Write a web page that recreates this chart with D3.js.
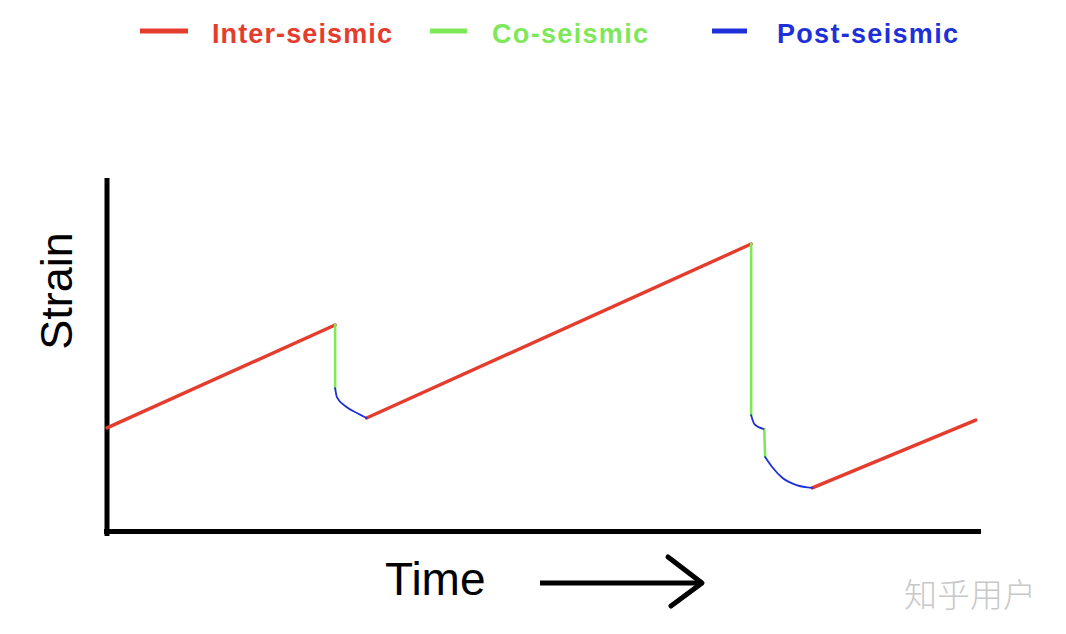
<!-- strain vs time sketch: inter / co / post seismic cycle -->
<html>
<head>
<meta charset="utf-8">
<title>Seismic cycle strain</title>
<script src="https://d3js.org/d3.v7.min.js"></script>
<style>
  body { margin: 0; background: #fff; }
  svg { display: block; }
  .lbl { font-family: "Liberation Sans", Arial, sans-serif; }
</style>
</head>
<body>
<svg></svg>
<script>

// time / strain points, arbitrary units (0..10 on both axes)
var interseismic = [
  [[0, 2.96], [2.61, 5.86]],
  [[2.97, 3.24], [7.37, 8.14]],
  [[8.07, 1.27], [9.94, 3.18]]
];
var coseismic = [
  [[2.61, 5.86], [2.61, 4.08]],
  [[7.37, 8.14], [7.37, 3.32]],
  [[7.52, 2.93], [7.53, 2.14]]
];
var postseismic = [
  [[2.61, 4.08], [2.63, 3.83], [2.74, 3.55], [2.86, 3.38], [2.97, 3.24]],
  [[7.37, 3.32], [7.41, 3.06], [7.51, 2.93]],
  [[7.53, 2.14], [7.61, 1.86], [7.73, 1.55], [7.89, 1.35], [8.07, 1.27]]
];

var legendNames = ["Inter-seismic", "Co-seismic", "Post-seismic"];
var legendColors = ["#e53d2d", "#7ee85a", "#1e30d8"];

var width = 1066, height = 634;
var svg = d3.select("svg").attr("width", width).attr("height", height);

var x = d3.scaleLinear().domain([0, 10]).range([107, 981]);
var y = d3.scaleLinear().domain([0, 10]).range([533, 178]);

var line = d3.line()
    .x(function(d) { return x(d[0]); })
    .y(function(d) { return y(d[1]); });
var curve = d3.line()
    .x(function(d) { return x(d[0]); })
    .y(function(d) { return y(d[1]); })
    .curve(d3.curveMonotoneX);

// axes (plain lines, no ticks)
svg.append("line")
    .attr("x1", x(0)).attr("x2", x(0))
    .attr("y1", y(10)).attr("y2", y(0) + 3)
    .attr("stroke", "#000").attr("stroke-width", 5);
svg.append("line")
    .attr("x1", x(0) - 3).attr("x2", x(10))
    .attr("y1", y(0) - 1.5).attr("y2", y(0) - 1.5)
    .attr("stroke", "#000").attr("stroke-width", 5);

// series
function drawSeries(data, gen, color, w) {
  svg.append("g").selectAll("path")
    .data(data)
    .enter().append("path")
      .attr("d", gen)
      .attr("fill", "none")
      .attr("stroke", color)
      .attr("stroke-width", w)
      .attr("stroke-linecap", "round");
}
drawSeries(interseismic, line, legendColors[0], 3.4);
drawSeries(coseismic, line, legendColors[1], 2.6);
drawSeries(postseismic, curve, legendColors[2], 1.8);

// legend
var legendX = [140, 430, 712];
var legendLineW = [48, 37, 35];
var legendTextX = [212, 492, 777];
var legendTextW = [180, 156, 181];
var leg = svg.append("g");
legendNames.forEach(function(name, i) {
  leg.append("line")
    .attr("x1", legendX[i]).attr("x2", legendX[i] + legendLineW[i])
    .attr("y1", 31).attr("y2", 31)
    .attr("stroke", legendColors[i]).attr("stroke-width", 5);
  leg.append("text")
    .attr("class", "lbl")
    .attr("x", legendTextX[i]).attr("y", 43)
    .attr("font-size", 27)
    .attr("font-weight", "bold")
    .attr("textLength", legendTextW[i])
    .attr("lengthAdjust", "spacing")
    .attr("fill", legendColors[i])
    .text(name);
});

// axis labels
svg.append("text")
    .attr("class", "lbl")
    .attr("transform", "translate(72,291) rotate(-90)")
    .attr("text-anchor", "middle")
    .attr("font-size", 45)
    .attr("fill", "#000")
    .text("Strain");

svg.append("text")
    .attr("class", "lbl")
    .attr("x", 385).attr("y", 595)
    .attr("font-size", 46)
    .attr("fill", "#000")
    .text("Time");

// arrow
svg.append("line")
    .attr("x1", 540).attr("x2", 701)
    .attr("y1", 583).attr("y2", 583)
    .attr("stroke", "#000").attr("stroke-width", 5);
svg.append("path")
    .attr("d", "M668,557 L702,583 L671,606")
    .attr("fill", "none")
    .attr("stroke", "#000").attr("stroke-width", 5)
    .attr("stroke-linecap", "round").attr("stroke-linejoin", "round");

// watermark
svg.append("text")
    .attr("x", 904).attr("y", 607)
    .attr("font-family", "'Noto Sans CJK SC', sans-serif")
    .attr("font-size", 33)
    .attr("font-weight", 300)
    .attr("fill", "#c8c8c8")
    .text("知乎用户");

</script>
</body>
</html>
